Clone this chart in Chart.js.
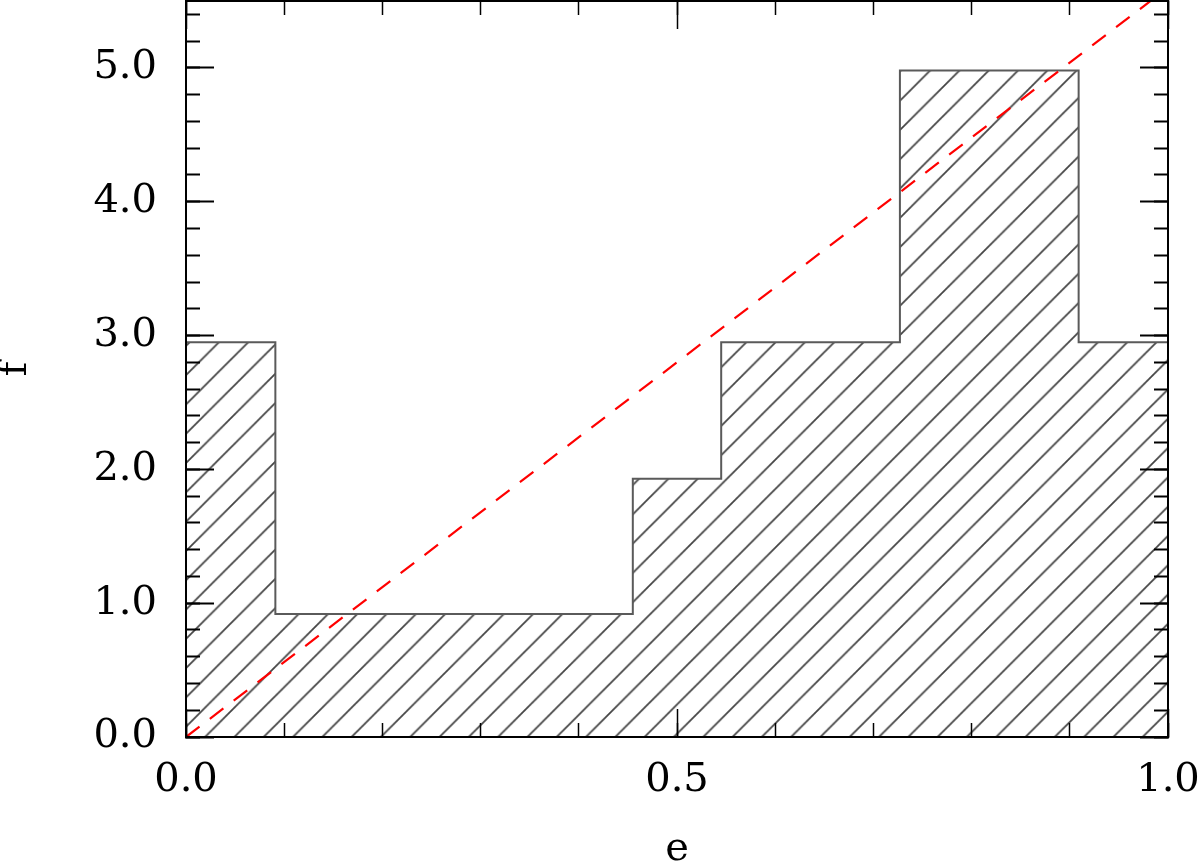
<!DOCTYPE html>
<html>
<head>
<meta charset="utf-8">
<title>f vs e</title>
<script src="https://cdn.jsdelivr.net/npm/chart.js@4.4.1/dist/chart.umd.min.js"></script>
<style>
    html, body { margin: 0; padding: 0; background: #ffffff; }
    canvas { display: block; }
</style>
</head>
<body>
<canvas id="histChart" width="1200" height="866"></canvas>
<script>
// histogram: left bin edges (e) and heights (f)
const binEdges = [0.000, 0.091, 0.182, 0.273, 0.364, 0.455, 0.545, 0.636, 0.727, 0.818, 0.909, 1.000];
const binValues = [2.95, 0.92, 0.92, 0.92, 0.92, 1.93, 2.95, 2.95, 4.98, 4.98, 2.95];

// dashed red line
const lineE = [0.0, 1.0];
const lineF = [0.0, 5.6];

// tick positions
const xMajorTicks = [0.0, 0.5, 1.0];
const xMinorTicks = [0.0, 0.1, 0.2, 0.3, 0.4, 0.5, 0.6, 0.7, 0.8, 0.9, 1.0];
const yMajorTicks = [0, 1, 2, 3, 4, 5];
const yMinorTicks = [0.0, 0.2, 0.4, 0.6, 0.8, 1.0, 1.2, 1.4, 1.6, 1.8, 2.0, 2.2, 2.4, 2.6, 2.8,
    3.0, 3.2, 3.4, 3.6, 3.8, 4.0, 4.2, 4.4, 4.6, 4.8, 5.0, 5.2, 5.4];

const FONT = "'DejaVu Serif', 'Liberation Serif', serif";

document.addEventListener("DOMContentLoaded", () => {
    dibujarHistograma();
});

function hatchPattern(ctx) {
    const size = 30;
    const c = document.createElement("canvas");
    c.width = size;
    c.height = size;
    const g = c.getContext("2d");
    g.strokeStyle = "#444444";
    g.lineWidth = 1.8;
    g.beginPath();
    g.moveTo(-2, size + 2); g.lineTo(size + 2, -2);
    g.moveTo(-2, 2); g.lineTo(2, -2);
    g.moveTo(size - 2, size + 2); g.lineTo(size + 2, size - 2);
    g.stroke();
    const p = ctx.createPattern(c, "repeat");
    // spacing ~29.3px, phase matched to the picture
    p.setTransform(new DOMMatrix().translate(4.4, 0).scale(29.3 / size));
    return p;
}

function noPadding(s) {
    s.paddingLeft = 0;
    s.paddingRight = 0;
    s.paddingTop = 0;
    s.paddingBottom = 0;
}

// scale that only draws inward tick marks (no labels, no size)
function tickScale(position, min, max, values, length, showBorder) {
    const horizontal = position === "top" || position === "bottom";
    return {
        type: "linear",
        position: position,
        axis: horizontal ? "x" : "y",
        min: min,
        max: max,
        weight: 0,
        afterBuildTicks: s => { s.ticks = values.map(v => ({ value: v })); },
        afterFit: s => {
            if (horizontal) s.height = 0; else s.width = 0;
            noPadding(s);
        },
        grid: {
            drawOnChartArea: false,
            tickLength: -length,
            tickColor: "#000000",
            tickWidth: horizontal ? 1.5 : 2,
            z: 1
        },
        border: { display: showBorder, color: "#000000", width: 2, z: 1 },
        ticks: { display: false, autoSkip: false }
    };
}

function dibujarHistograma() {
    const ctx = document.getElementById("histChart").getContext("2d");

    const histPoints = binValues.map((v, i) => ({ x: binEdges[i], y: v }));
    histPoints.push({ x: binEdges[binEdges.length - 1], y: binValues[binValues.length - 1] });

    const linePoints = lineE.map((e, i) => ({ x: e, y: lineF[i] }));

    new Chart(ctx, {
        type: "line",
        data: {
            datasets: [
                {
                    label: "fit",
                    data: linePoints,
                    borderColor: "#ff0000",
                    borderWidth: 2.2,
                    borderDash: [17, 13],
                    pointRadius: 0,
                    fill: false,
                    order: 0
                },
                {
                    label: "histogram",
                    data: histPoints,
                    stepped: true,
                    borderColor: "#5a5a5a",
                    borderWidth: 2,
                    backgroundColor: hatchPattern(ctx),
                    fill: "origin",
                    pointRadius: 0,
                    order: 1
                }
            ]
        },
        options: {
            responsive: false,
            animation: false,
            events: [],
            layout: { padding: { top: 1, right: 32, bottom: 0, left: 0 } },
            plugins: {
                legend: { display: false },
                tooltip: { enabled: false }
            },
            scales: {
                x: {
                    type: "linear",
                    position: "bottom",
                    min: 0,
                    max: 1,
                    weight: 1,
                    afterBuildTicks: s => { s.ticks = xMajorTicks.map(v => ({ value: v })); },
                    afterFit: s => { s.height = 129; noPadding(s); },
                    grid: {
                        drawOnChartArea: false,
                        tickLength: -28,
                        tickColor: "#000000",
                        tickWidth: 1.5,
                        z: 1
                    },
                    border: { color: "#000000", width: 2, z: 1 },
                    ticks: {
                        autoSkip: false,
                        maxRotation: 0,
                        padding: 48,
                        color: "#000000",
                        font: { family: FONT, size: 40 },
                        callback: v => v.toFixed(1)
                    },
                    title: {
                        display: true,
                        text: "e",
                        color: "#000000",
                        font: { family: FONT, size: 40, lineHeight: 0.8 },
                        padding: 0
                    }
                },
                xMinor: tickScale("bottom", 0, 1, xMinorTicks, 14, false),
                xTop: tickScale("top", 0, 1, xMajorTicks, 28, true),
                xTopMinor: tickScale("top", 0, 1, xMinorTicks, 14, false),
                y: {
                    type: "linear",
                    position: "left",
                    min: 0,
                    max: 5.5,
                    weight: 1,
                    afterBuildTicks: s => { s.ticks = yMajorTicks.map(v => ({ value: v })); },
                    afterFit: s => { s.width = 186; noPadding(s); },
                    grid: {
                        drawOnChartArea: false,
                        tickLength: -28,
                        tickColor: "#000000",
                        tickWidth: 2,
                        z: 1
                    },
                    border: { color: "#000000", width: 2, z: 1 },
                    ticks: {
                        autoSkip: false,
                        padding: 57,
                        color: "#000000",
                        font: { family: FONT, size: 40 },
                        callback: v => v.toFixed(1)
                    },
                    title: {
                        display: true,
                        text: "f",
                        color: "#000000",
                        font: { family: FONT, size: 40, lineHeight: 0.8 },
                        padding: 0
                    }
                },
                yMinor: tickScale("left", 0, 5.5, yMinorTicks, 14, false),
                yRight: tickScale("right", 0, 5.5, yMajorTicks, 28, true),
                yRightMinor: tickScale("right", 0, 5.5, yMinorTicks, 14, false)
            }
        }
    });
}
</script>
</body>
</html>
